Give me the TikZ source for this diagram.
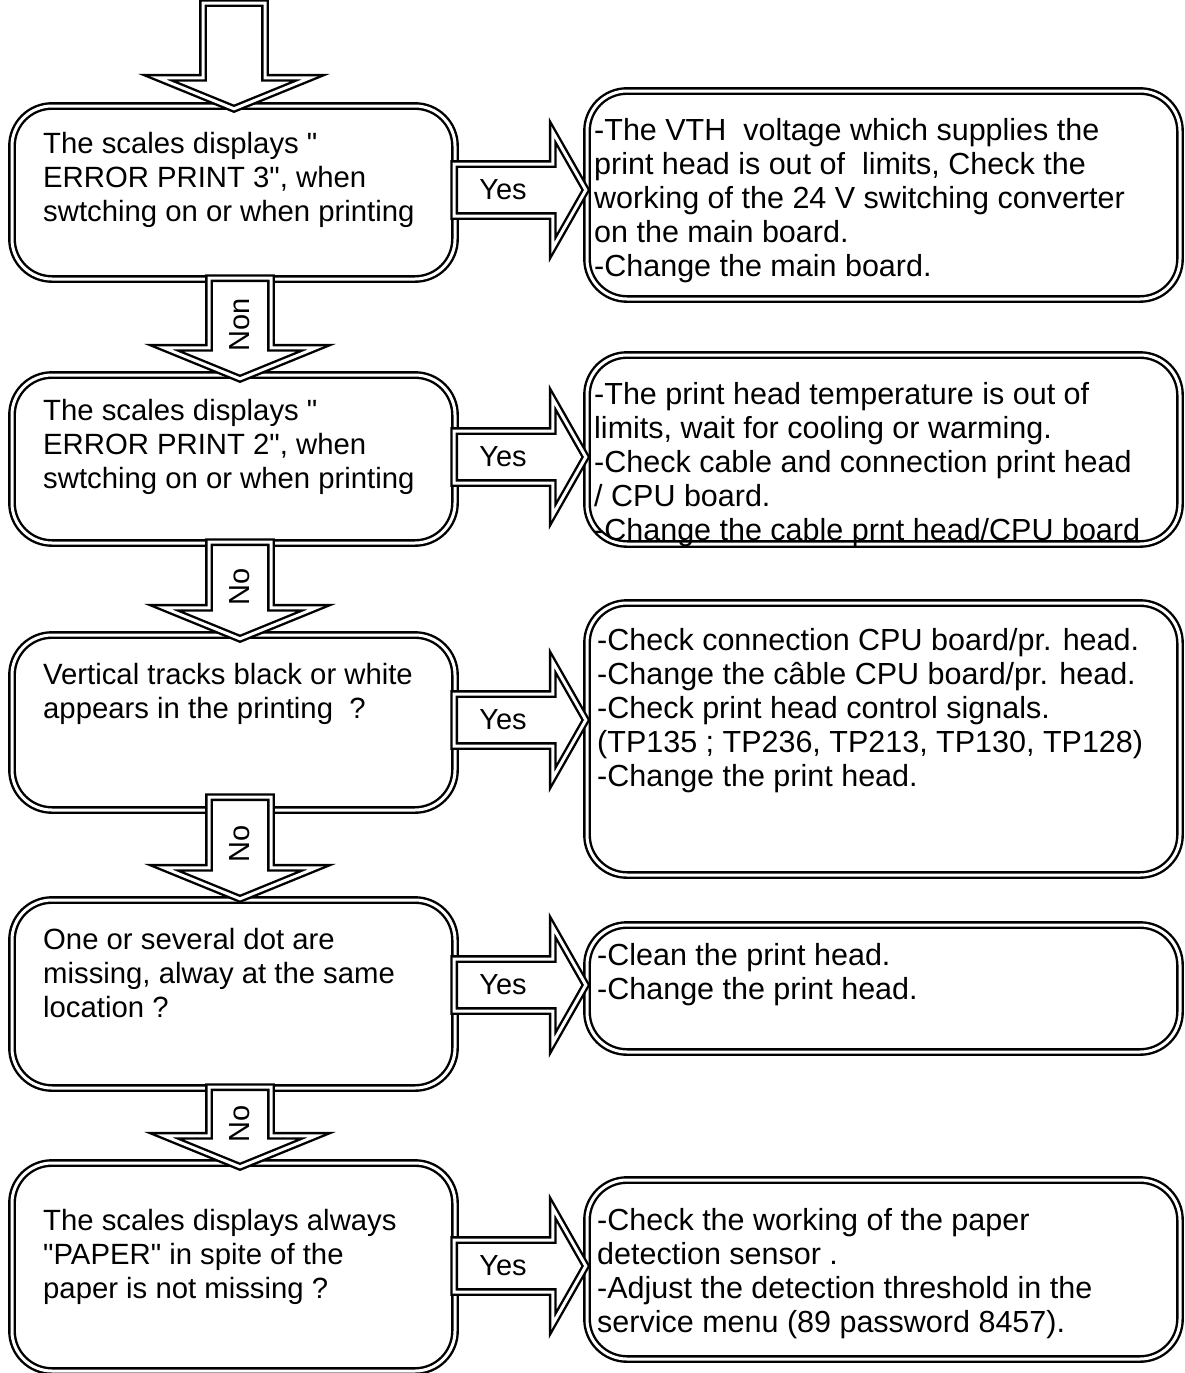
\documentclass[tikz,border=0pt]{standalone}
\usepackage{fontspec}
\setmainfont{Liberation Sans}
\usetikzlibrary{calc}
\newcommand\qq{\XeTeXglyph\XeTeXcharglyph"22\relax}
\tikzset{
  dbl/.style={draw=black, line width=2.4pt, double=white, double distance=3pt},
  box/.style={dbl, rounded corners=40pt, rectangle, inner sep=0pt},
  lbox/.style={box, minimum width=443pt},
  rbox/.style={box, minimum width=593pt},
  txt/.style={anchor=north west, align=left, inner sep=0pt, font=\fontsize{29.3}{34}\selectfont},
  rtxt/.style={txt, font=\fontsize{30.5}{34}\selectfont},
  blk/.style={dbl, fill=white, line join=miter},
  lbl/.style={font=\fontsize{29}{34}\selectfont, inner sep=0pt}
}
\newcommand\blkdown[2]{%
  \draw[blk] ($(#1)+(-31,-2)$) -- ($(#2)+(-31,-31)$) -- ($(#2)+(-76,-31)$) -- (#2)
    -- ($(#2)+(76,-31)$) -- ($(#2)+(31,-31)$) -- ($(#1)+(31,-2)$) -- cycle;}
\newcommand\blkright[2]{%
  \draw[blk] ($(#1)+(-2,-26)$) -- ($(#2)+(-33,-26)$) -- ($(#2)+(-33,-58)$) -- (#2)
    -- ($(#2)+(-33,58)$) -- ($(#2)+(-33,26)$) -- ($(#1)+(-2,26)$) -- cycle;}
\begin{document}
\begin{tikzpicture}[x=1pt,y=-1pt]
\useasboundingbox (0,0) rectangle (1185,1373);
% left boxes
\node[lbox, minimum height=173pt] (l1) at (233.5,192.5) {};
\node[lbox, minimum height=168pt] (l2) at (233.5,459) {};
\node[lbox, minimum height=175pt] (l3) at (233.5,722.5) {};
\node[lbox, minimum height=188pt] (l4) at (233.5,994) {};
\node[lbox, minimum height=208pt] (l5) at (233.5,1267) {};
% right boxes
\node[rbox, minimum height=208pt] (r1) at (883.5,195) {};
\node[rbox, minimum height=189pt] (r2) at (883.5,449.5) {};
\node[rbox, minimum height=272pt] (r3) at (883.5,739) {};
\node[rbox, minimum height=127pt] (r4) at (883.5,988.5) {};
\node[rbox, minimum height=179pt] (r5) at (883.5,1269.5) {};
% texts
\node[txt] (t1) at (43,132) {The scales displays \qq\\ERROR PRINT 3\qq, when\\swtching on or when printing};
\node[txt] (t2) at (43,399) {The scales displays \qq\\ERROR PRINT 2\qq, when\\swtching on or when printing};
\node[txt] (t3) at (43,663) {Vertical tracks black or white\\appears in the printing~ ?};
\node[txt] (t4) at (43,928) {One or several dot are\\missing, alway at the same\\location ?};
\node[txt] (t5) at (43,1209) {The scales displays always\\\qq PAPER\qq\ in spite of the\\paper is not missing ?};
\node[rtxt] (s1) at (594,118) {-The VTH~ voltage which supplies the\\print head is out of~ limits, Check the\\working of the 24 V switching converter\\on the main board.\\-Change the main board.};
\node[rtxt] (s2) at (594,382) {-The print head temperature is out of\\limits, wait for cooling or warming.\\-Check cable and connection print head\\/ CPU board.\\-Change the cable prnt head/CPU board};
\node[rtxt] (s3) at (597,628) {-Check connection CPU board/pr. head.\\-Change the câble CPU board/pr. head.\\-Check print head control signals.\\(TP135 ; TP236, TP213, TP130, TP128)\\-Change the print head.};
\node[rtxt] (s4) at (597,943) {-Clean the print head.\\-Change the print head.};
\node[rtxt] (s5) at (597,1208) {-Check the working of the paper\\detection sensor .\\-Adjust the detection threshold in the\\service menu (89 password 8457).};
% top arrow
\coordinate (top) at (234,5);
\coordinate (topend) at ($(l1.north)+(0.5,4)$);
\blkdown{top}{topend}
% down arrows
\coordinate (d1s) at ($(l1.south)+(6.5,0)$);
\coordinate (d1e) at ($(l2.north)+(6.5,5)$);
\coordinate (d2s) at ($(l2.south)+(6.5,0)$);
\coordinate (d2e) at ($(l3.north)+(6.5,5)$);
\coordinate (d3s) at ($(l3.south)+(6.5,-12)$);
\coordinate (d3e) at ($(l4.north)+(6.5,0)$);
\coordinate (d4s) at ($(l4.south)+(6.5,0)$);
\coordinate (d4e) at ($(l5.north)+(6.5,5)$);
\blkdown{d1s}{d1e}
\blkdown{d2s}{d2e}
\blkdown{d3s}{d3e}
\blkdown{d4s}{d4e}
\node[lbl, rotate=90] (n1) at ($(d1s)!0.45!(d1e)$) {Non};
\node[lbl, rotate=90] (n2) at ($(d2s)!0.45!(d2e)$) {No};
\node[lbl, rotate=90] (n3) at ($(d3s)!0.45!(d3e)$) {No};
\node[lbl, rotate=90] (n4) at ($(d4s)!0.45!(d4e)$) {No};
% right arrows
\coordinate (y1) at (0,190);
\coordinate (y2) at (0,457);
\coordinate (y3) at (0,720);
\coordinate (y4) at (0,985);
\coordinate (y5) at (0,1266);
\blkright{l1.east |- y1}{r1.west |- y1}
\blkright{l2.east |- y2}{r2.west |- y2}
\blkright{l3.east |- y3}{r3.west |- y3}
\blkright{l4.east |- y4}{r4.west |- y4}
\blkright{l5.east |- y5}{r5.west |- y5}
\node[lbl] (y1l) at (503,190) {Yes};
\node[lbl] (y2l) at (503,457) {Yes};
\node[lbl] (y3l) at (503,720) {Yes};
\node[lbl] (y4l) at (503,985) {Yes};
\node[lbl] (y5l) at (503,1266) {Yes};
\end{tikzpicture}
\end{document}
